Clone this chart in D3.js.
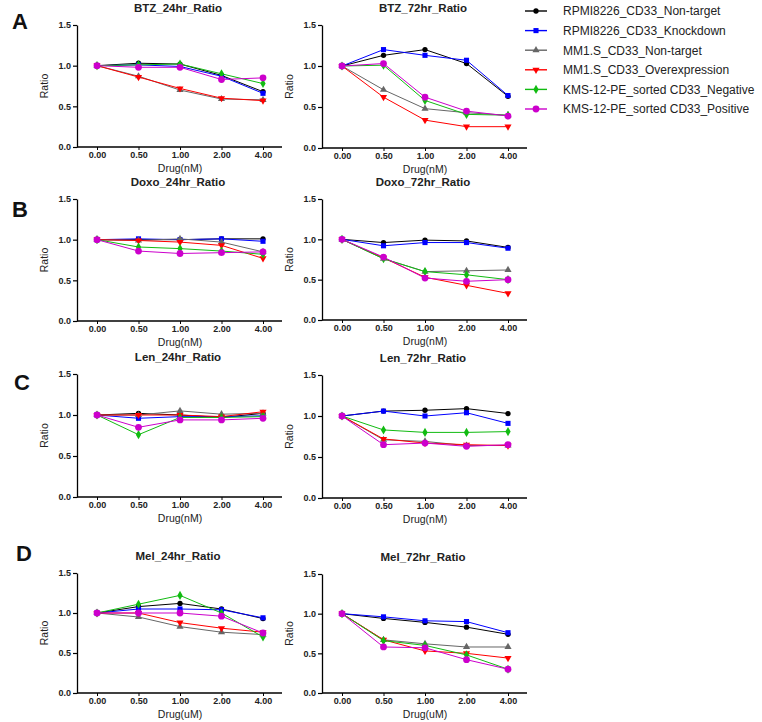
<!DOCTYPE html>
<html>
<head>
<meta charset="utf-8">
<script src="https://cdn.jsdelivr.net/npm/d3@7"></script>
<style>
  html, body { margin: 0; padding: 0; background: #fff; }
  svg { display: block; font-family: Arial, "Liberation Sans", sans-serif; }
</style>
</head>
<body>
<svg id="chart" width="762" height="722"></svg>
<script>
// ---------- data ----------
const doses = ["0.00", "0.50", "1.00", "2.00", "4.00"];
const seriesNames = [
  "RPMI8226_CD33_Non-target",
  "RPMI8226_CD33_Knockdown",
  "MM1.S_CD33_Non-target",
  "MM1.S_CD33_Overexpression",
  "KMS-12-PE_sorted CD33_Negative",
  "KMS-12-PE_sorted CD33_Positive"
];
const yTicks = [0, 0.5, 1.0, 1.5];

// order of each: black, blue, gray, red, green, magenta
const btz24 = [
  [1.00, 1.03, 1.02, 0.88, 0.68],
  [1.00, 1.01, 0.99, 0.87, 0.66],
  [1.00, 0.87, 0.70, 0.59, 0.58],
  [1.00, 0.86, 0.72, 0.60, 0.57],
  [1.00, 1.01, 1.02, 0.90, 0.78],
  [1.00, 0.98, 0.98, 0.83, 0.85]
];
const btz72 = [
  [1.00, 1.13, 1.20, 1.03, 0.63],
  [1.00, 1.20, 1.13, 1.07, 0.64],
  [1.00, 0.71, 0.48, 0.43, 0.40],
  [1.00, 0.62, 0.34, 0.26, 0.26],
  [1.00, 1.01, 0.58, 0.41, 0.40],
  [1.00, 1.03, 0.62, 0.45, 0.39]
];
const doxo24 = [
  [1.00, 1.00, 1.00, 1.01, 1.01],
  [1.00, 1.01, 1.00, 1.01, 0.98],
  [1.00, 0.99, 1.01, 0.97, 0.85],
  [1.00, 0.99, 0.97, 0.93, 0.77],
  [1.00, 0.91, 0.89, 0.86, 0.82],
  [1.00, 0.86, 0.83, 0.84, 0.85]
];
const doxo72 = [
  [1.00, 0.96, 0.99, 0.98, 0.90],
  [1.00, 0.92, 0.96, 0.96, 0.89],
  [1.00, 0.76, 0.60, 0.61, 0.62],
  [1.00, 0.77, 0.53, 0.43, 0.33],
  [1.00, 0.76, 0.60, 0.56, 0.50],
  [1.00, 0.78, 0.52, 0.48, 0.50]
];
const len24 = [
  [1.00, 1.02, 1.00, 0.97, 1.02],
  [1.00, 0.96, 0.98, 0.98, 0.99],
  [1.00, 1.00, 1.05, 1.01, 1.02],
  [1.00, 1.00, 1.00, 0.98, 1.04],
  [1.00, 0.76, 0.97, 0.97, 0.98],
  [1.00, 0.85, 0.94, 0.94, 0.96]
];
const len72 = [
  [1.00, 1.06, 1.07, 1.09, 1.03],
  [1.00, 1.06, 1.00, 1.04, 0.91],
  [1.00, 0.71, 0.69, 0.64, 0.64],
  [1.00, 0.72, 0.67, 0.65, 0.64],
  [1.00, 0.83, 0.80, 0.80, 0.81],
  [1.00, 0.65, 0.67, 0.63, 0.65]
];
const mel24 = [
  [1.00, 1.08, 1.12, 1.05, 0.93],
  [1.00, 1.05, 1.05, 1.04, 0.94],
  [1.00, 0.95, 0.83, 0.76, 0.73],
  [1.00, 1.00, 0.88, 0.81, 0.76],
  [1.00, 1.11, 1.22, 1.00, 0.70],
  [1.00, 1.00, 1.00, 0.96, 0.75]
];
const mel72 = [
  [1.00, 0.94, 0.89, 0.83, 0.74],
  [1.00, 0.96, 0.91, 0.90, 0.76],
  [1.00, 0.67, 0.62, 0.58, 0.58],
  [1.00, 0.67, 0.53, 0.50, 0.44],
  [1.00, 0.66, 0.60, 0.48, 0.30],
  [1.00, 0.58, 0.57, 0.42, 0.30]
];

const panelTitles = ["BTZ_24hr_Ratio", "BTZ_72hr_Ratio", "Doxo_24hr_Ratio", "Doxo_72hr_Ratio",
                     "Len_24hr_Ratio", "Len_72hr_Ratio", "Mel_24hr_Ratio", "Mel_72hr_Ratio"];
const panelData = [btz24, btz72, doxo24, doxo72, len24, len72, mel24, mel72];
const xLabels = ["Drug(nM)", "Drug(nM)", "Drug(nM)", "Drug(nM)", "Drug(nM)", "Drug(nM)", "Drug(uM)", "Drug(uM)"];
const rowLetters = ["A", "B", "C", "D"];

// ---------- styles ----------
const colors = ["#000000", "#0000ff", "#666666", "#ff0000", "#11bb11", "#cc00cc"];
const symbols = [d3.symbolCircle, d3.symbolSquare, d3.symbolTriangle, d3.symbolTriangle, d3.symbolDiamond, d3.symbolCircle];
const symSizes = [22, 26, 22, 22, 24, 36];
const symRot = [0, 0, 0, 180, 0, 0];

// ---------- layout ----------
const colX = [77, 322];
const rowY = [[25, 147], [199, 321], [374, 497], [573, 693]];
const rowYRight = [[25, 148], [199, 320], [375, 498], [574, 693]];
const letterPos = [[20, 29], [20, 217], [22, 390], [24, 561]];
const axisLen = 205;

const svg = d3.select("#chart");

panelData.forEach((data, i) => {
  const row = Math.floor(i / 2), col = i % 2;
  const x0 = colX[col];
  const yr = col === 0 ? rowY[row] : rowYRight[row];
  const x = d3.scalePoint().domain(doses).range([x0 + 20, x0 + 186]);
  const y = d3.scaleLinear().domain([0, 1.5]).range([yr[1], yr[0]]);
  const g = svg.append("g");

  // y axis
  const ya = g.append("g").attr("transform", `translate(${x0},0)`)
    .call(d3.axisLeft(y).tickValues(yTicks).tickFormat(d3.format(".1f")).tickSize(4).tickSizeOuter(0));
  ya.select(".domain").attr("stroke", "#000").attr("stroke-width", 1.3);
  ya.selectAll(".tick line").attr("stroke", "#000").attr("stroke-width", 1.2);
  ya.selectAll(".tick text").attr("font-size", 9).attr("font-weight", "bold").attr("fill", "#222")
    .attr("font-family", "Arial, 'Liberation Sans', sans-serif").attr("x", -6);

  // x axis
  const xa = g.append("g").attr("transform", `translate(0,${yr[1]})`)
    .call(d3.axisBottom(x).tickSize(3).tickSizeOuter(0));
  xa.select(".domain").attr("d", `M${x0},0H${x0 + axisLen}`).attr("stroke", "#000").attr("stroke-width", 1.3);
  xa.selectAll(".tick line").attr("stroke", "#000");
  xa.selectAll(".tick text").attr("font-size", 9).attr("font-weight", "bold").attr("fill", "#222")
    .attr("font-family", "Arial, 'Liberation Sans', sans-serif").attr("y", 5);

  // title
  g.append("text").attr("x", x0 + 101).attr("y", yr[0] - 13)
    .attr("text-anchor", "middle").attr("font-size", 11.5).attr("font-weight", "bold").attr("fill", "#222")
    .text(panelTitles[i]);

  // axis labels
  g.append("text").attr("transform", `translate(${x0 - 29},${(yr[0] + yr[1]) / 2}) rotate(-90)`)
    .attr("text-anchor", "middle").attr("font-size", 10.5).attr("fill", "#222").text("Ratio");
  g.append("text").attr("x", x0 + 103).attr("y", yr[1] + 25)
    .attr("text-anchor", "middle").attr("font-size", 10.5).attr("fill", "#222").text(xLabels[i]);

  // series
  const line = d3.line().x((d, j) => x(doses[j])).y(d => y(d));
  data.forEach((vals, s) => {
    g.append("path").datum(vals).attr("d", line).attr("fill", "none")
      .attr("stroke", colors[s]).attr("stroke-width", 1);
    g.selectAll(null).data(vals).enter().append("path")
      .attr("d", d3.symbol().type(symbols[s]).size(symSizes[s]))
      .attr("transform", (d, j) => `translate(${x(doses[j])},${y(d)}) rotate(${symRot[s]})`)
      .attr("fill", colors[s]);
  });
});

// row letters
rowLetters.forEach((L, r) => {
  svg.append("text").attr("x", letterPos[r][0]).attr("y", letterPos[r][1])
    .attr("text-anchor", "middle").attr("font-size", 22).attr("font-weight", "bold").attr("fill", "#111").text(L);
});

// legend
const legY0 = 11, legStep = 19.6;
const leg = svg.append("g");
seriesNames.forEach((name, s) => {
  const yy = legY0 + s * legStep;
  leg.append("line").attr("x1", 525).attr("x2", 547).attr("y1", yy).attr("y2", yy)
    .attr("stroke", colors[s]).attr("stroke-width", 1.4);
  leg.append("path").attr("d", d3.symbol().type(symbols[s]).size(symSizes[s]))
    .attr("transform", `translate(536,${yy}) rotate(${symRot[s]})`).attr("fill", colors[s]);
  leg.append("text").attr("x", 563).attr("y", yy + 4.3).attr("font-size", 12).attr("fill", "#222").text(name);
});
</script>
</body>
</html>
